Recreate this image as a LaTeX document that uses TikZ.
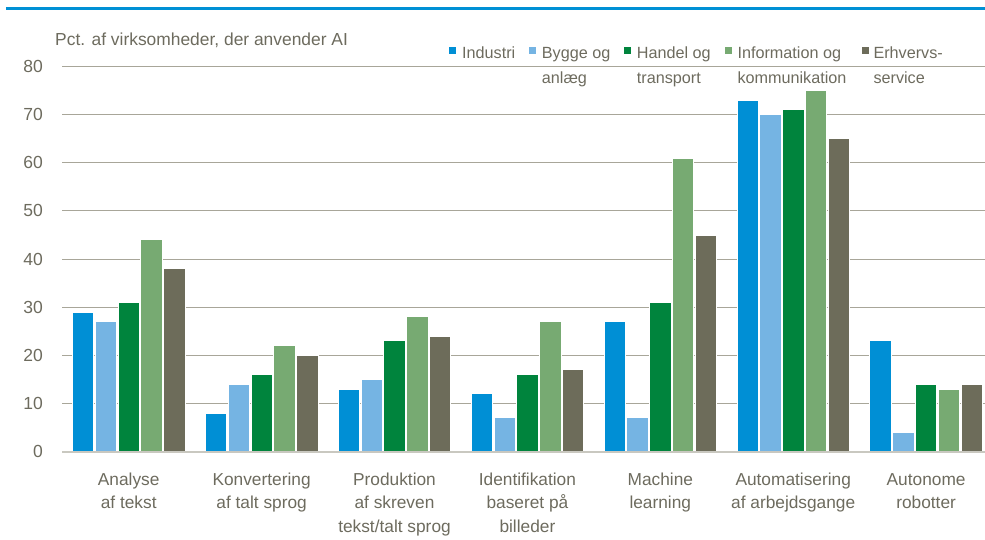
\documentclass[tikz,border=0pt]{standalone}
\usepackage{fontspec}
\setmainfont{Liberation Sans}
\definecolor{ser1}{HTML}{008FD5}
\definecolor{ser2}{HTML}{75B4E3}
\definecolor{ser3}{HTML}{00843D}
\definecolor{ser4}{HTML}{77AA72}
\definecolor{ser5}{HTML}{6D6C5A}
\definecolor{txt}{HTML}{6D6B5E}
\definecolor{grid}{HTML}{A8A699}
\definecolor{axis}{HTML}{C9C8C0}
\definecolor{topline}{HTML}{0090D5}
\begin{document}
\begin{tikzpicture}[x=1pt,y=-1pt,
  cat/.style={anchor=base,align=center,inner sep=0pt,text=txt,font=\fontsize{17.3}{23.5}\selectfont},
  leg/.style={anchor=base west,align=left,inner sep=0pt,text=txt,font=\fontsize{16.2}{25}\selectfont},
  ylab/.style={anchor=east,inner sep=0pt,text=txt,font=\fontsize{17.5}{20}\selectfont},
  gridline/.style={draw=grid,line width=1pt}]
\useasboundingbox (0,0) rectangle (985,539);
% top rule
\draw[topline,line width=2.6pt] (6,8.5) -- (985,8.5);
% gridlines and y labels
\foreach \t in {10,20,...,80}{
  \draw[gridline] (62,{451.5-4.8125*\t}) -- (985,{451.5-4.8125*\t});
}
\foreach \t in {0,10,...,80}{
  \node[ylab] (y\t) at (43,{451.5-4.8125*\t}) {\t};
}
% bars
\foreach \vals [count=\g] in {{29,27,31,44,38},{8,14,16,22,20},{13,15,23,28,24},{12,7,16,27,17},{27,7,31,61,45},{73,70,71,75,65},{23,4,14,13,14}}{
  \foreach \v [count=\s] in \vals {
    \pgfmathsetmacro\xc{128.7+132.9*(\g-1)+22.8*(\s-3)}
    \pgfmathsetmacro\yt{451.5-4.8125*\v}
    \fill[ser\s,draw=white,line width=0.8pt] ({\xc-10.7},451.5) rectangle ({\xc+10.7},\yt);
  }
}
% zero axis
\draw[axis,line width=1.6pt] (62,451.8) -- (985,451.8);
% title
\node[anchor=base west,inner sep=0pt,text=txt,font=\fontsize{17.4}{20}\selectfont] (title) at (55,45.3) {Pct. af virksomheder, der anvender AI};
% category labels (anchor = baseline of last line)
\node[cat] (c1) at (128.7,508.5) {Analyse\\af tekst};
\node[cat] (c2) at (261.6,508.5) {Konvertering\\af talt sprog};
\node[cat] (c3) at (394.5,532) {Produktion\\af skreven\\tekst/talt sprog};
\node[cat] (c4) at (527.4,532) {Identifikation\\baseret på\\billeder};
\node[cat] (c5) at (660.3,508.5) {Machine\\learning};
\node[cat] (c6) at (793.2,508.5) {Automatisering\\af arbejdsgange};
\node[cat] (c7) at (926.1,508.5) {Autonome\\robotter};
% legend (anchor = baseline of last line)
\fill[ser1] (449,47) rectangle ++(7,7);
\node[leg] (l1) at (462,58.3) {Industri};
\fill[ser2] (529.3,47) rectangle ++(7,7);
\node[leg] (l2) at (541.7,83.3) {Bygge og\\anlæg};
\fill[ser3] (624,47) rectangle ++(7,7);
\node[leg] (l3) at (636.7,83.3) {Handel og\\transport};
\fill[ser4] (725,47) rectangle ++(7,7);
\node[leg] (l4) at (737.3,83.3) {Information og\\kommunikation};
\fill[ser5] (861.7,47) rectangle ++(7,7);
\node[leg] (l5) at (873.3,83.3) {Erhvervs-\\service};
\end{tikzpicture}
\end{document}
